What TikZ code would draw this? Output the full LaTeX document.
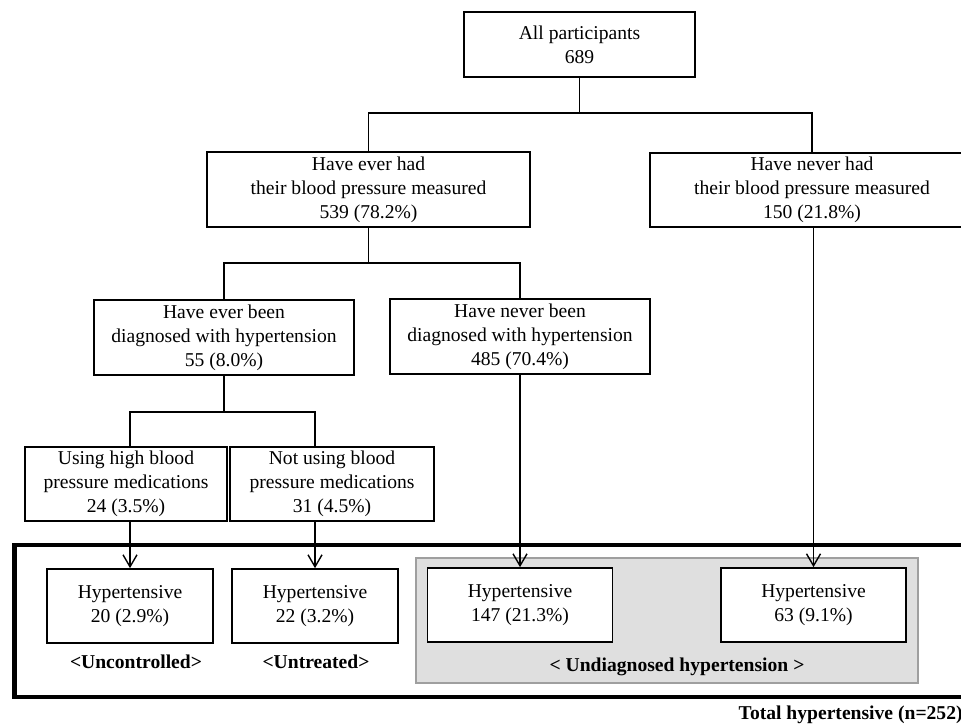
\documentclass[tikz,border=0pt]{standalone}
\usepackage{fontspec}
\setmainfont{Liberation Serif}
\usetikzlibrary{arrows.meta}

\begin{document}
\begin{tikzpicture}[x=0.5pt,y=-0.5pt,
    box/.style={draw,fill=white,line width=0.85pt,align=center,inner sep=0pt,font=\fontsize{9.8}{12}\selectfont},
    link/.style={line width=0.7pt},
    arr/.style={line width=0.7pt,-{Straight Barb[length=6pt,width=7pt]}},
    tag/.style={inner sep=0pt,font=\fontsize{9.8}{12}\selectfont\bfseries}]
    \useasboundingbox(0,0)rectangle(961,724);
    \clip(0,0)rectangle(961,724);

    \draw[line width=2.2pt](14.5,545)rectangle(990,697);
    \filldraw[fill=gray!25,draw=gray!75,line width=1pt](416,558)rectangle(918,683);

    \node[box,minimum width=115.5pt,minimum height=32.5pt](all)at(579.5,44.5){All participants\\689};
    \node[box,minimum width=161.5pt,minimum height=37.5pt](ever)at(368.5,189.5){Have ever had\\their blood pressure measured\\539 (78.2\%)};
    \node[box,minimum width=162pt,minimum height=37pt](never)at(812,190){Have never had\\their blood pressure measured\\150 (21.8\%)};
    \node[box,minimum width=130pt,minimum height=37.5pt](dx)at(224,337.5){Have ever been\\diagnosed with hypertension\\55 (8.0\%)};
    \node[box,minimum width=130pt,minimum height=37.5pt](nodx)at(520,336.5){Have never been\\diagnosed with hypertension\\485 (70.4\%)};
    \node[box,minimum width=101pt,minimum height=37pt](med)at(126,484){Using high blood\\pressure medications\\24 (3.5\%)};
    \node[box,minimum width=102pt,minimum height=37pt](nomed)at(332,484){Not using blood\\pressure medications\\31 (4.5\%)};

    \node[box,minimum width=83pt,minimum height=37pt](hta)at(130,606){Hypertensive\\20 (2.9\%)};
    \node[box,minimum width=83pt,minimum height=37pt](htb)at(315,606){Hypertensive\\22 (3.2\%)};
    \node[box,minimum width=92.5pt,minimum height=37pt](htc)at(520,605){Hypertensive\\147 (21.3\%)};
    \node[box,minimum width=92.5pt,minimum height=37pt](htd)at(813.5,605){Hypertensive\\63 (9.1\%)};

    \node[tag](unc)at(136,662){<Uncontrolled>};
    \node[tag](unt)at(316,662){<Untreated>};
    \node[tag](und)at(677,667){< Undiagnosed hypertension >};
    \node[tag,anchor=east](tot)at(963,715){Total hypertensive (n=252)};

    \coordinate(j1)at(579.5,113);
    \draw[link](all)--(j1);
    \draw[link](ever)|-(j1)-|(never);

    \coordinate(j2)at(368.5,263);
    \draw[link](ever)--(j2);
    \draw[link](dx)|-(j2)-|(nodx);

    \coordinate(j3)at(224,412);
    \draw[link](dx)--(j3);
    \draw[link](med.north-|hta)|-(j3)-|(nomed.north-|htb);

    \draw[arr](med.south-|hta)--(hta);
    \draw[arr](nomed.south-|htb)--(htb);
    \draw[arr](nodx)--(htc);
    \draw[arr](never.south-|htd)--(htd);
\end{tikzpicture}
\end{document}
